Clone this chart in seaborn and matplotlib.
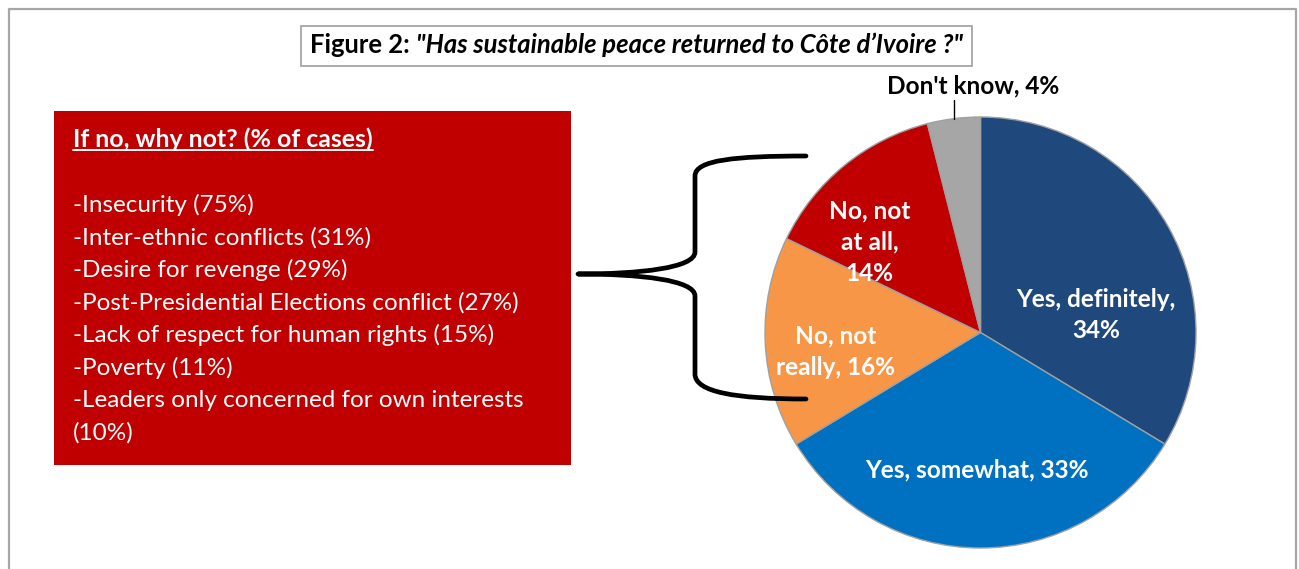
import matplotlib
matplotlib.use("Agg")
import matplotlib.pyplot as plt
import seaborn as sns
from matplotlib.patches import Rectangle, PathPatch
from matplotlib.path import Path
from matplotlib.lines import Line2D
import numpy as np

# ---- data -------------------------------------------------------------
answers = ["Yes, definitely", "Yes, somewhat", "No, not really", "No, not at all", "Don't know"]
shares = [34, 33, 16, 14, 4]
# how each slice label is broken over lines
label_lines = [
    ["Yes, definitely,", "{}%"],
    ["Yes, somewhat, {}%"],
    ["No, not", "really, {}%"],
    ["No, not", "at all,", "{}%"],
    ["Don't know, {}%"],
]
slice_colors = ["#1F497D", "#0070C0", "#F79646", "#C00000", "#A6A6A6"]

reasons = [
    "Insecurity",
    "Inter-ethnic conflicts",
    "Desire for revenge",
    "Post-Presidential Elections conflict",
    "Lack of respect for human rights",
    "Poverty",
    "Leaders only concerned for own interests",
]
reason_shares = [75, 31, 29, 27, 15, 11, 10]

title_lead = "Figure 2: "
title_question = "\"Has sustainable peace returned to C\u00f4te d\u2019Ivoire ?\""
box_header = "If no, why not? (% of cases)"

# ---- style ------------------------------------------------------------
sns.set_theme(style="white")
plt.rcParams["font.family"] = ["Lato", "DejaVu Sans"]

W, H = 1299, 569
fig = plt.figure(figsize=(W / 100, H / 100), dpi=100)
fig.patch.set_facecolor("white")


def fx(x):
    return x / W


def fy(y):
    return 1 - y / H


renderer = fig.canvas.get_renderer()


def width_px(t):
    return t.get_window_extent(renderer).width


# outer frame (open at the bottom)
fig.add_artist(Line2D([fx(8.5), fx(8.5), fx(1295.5), fx(1295.5)],
                      [fy(600), fy(8.5), fy(8.5), fy(600)],
                      transform=fig.transFigure, color="#A6A6A6", lw=1.6))

# ---- title box --------------------------------------------------------
fig.add_artist(Rectangle((fx(301), fy(66)), (972 - 301) / W, (66 - 26) / H,
                         transform=fig.transFigure, facecolor="white",
                         edgecolor="#A6A6A6", lw=1.3))
t1 = fig.text(fx(310), fy(53), title_lead, fontsize=14, fontweight="bold",
              va="baseline", ha="left", color="black")
t2 = fig.text(fx(310), fy(53), title_question, fontsize=14, fontweight="bold",
              style="italic", va="baseline", ha="left", color="black")
scale = 653 / (width_px(t1) + width_px(t2))
for t in (t1, t2):
    t.set_fontsize(14 * scale)
t2.set_x(fx(310 + width_px(t1)))

# ---- red explanation box ---------------------------------------------
fig.add_artist(Rectangle((fx(54), fy(465)), (571 - 54) / W, (465 - 111) / H,
                         transform=fig.transFigure, facecolor="#C00000",
                         edgecolor="none"))
hdr = fig.text(fx(73), fy(146.7), box_header, fontsize=14, fontweight="bold",
               color="white", va="baseline", ha="left")
hdr.set_fontsize(14 * 302 / width_px(hdr))
hb = hdr.get_window_extent(renderer)
fig.add_artist(Line2D([hb.x0 / W, hb.x1 / W], [fy(150.5), fy(150.5)],
                      transform=fig.transFigure, color="white", lw=1.4))

lines = []
for r, s in zip(reasons, reason_shares):
    lines.append(f"-{r} ({s}%)")
probe = fig.text(0, 0, lines[3], fontsize=14)
list_size = 14 * 448 / width_px(probe)
probe.remove()

# wrap lines that run past the box
wrapped = []
for ln in lines:
    tt = fig.text(0, 0, ln, fontsize=list_size)
    if width_px(tt) > 480:
        head, tail = ln.rsplit(" (", 1)
        wrapped += [head, "(" + tail]
    else:
        wrapped.append(ln)
    tt.remove()

for i, ln in enumerate(wrapped):
    fig.text(fx(73), fy(211.7 + i * 32.6), ln, fontsize=list_size,
             color="white", va="baseline", ha="left")

# ---- curly brace linking box and "No" slices ---------------------------
verts = [
    (806, 156),
    (735, 156), (695, 160), (695, 176),
    (695, 252),
    (695, 268), (640, 274), (578, 274),
    (640, 274), (695, 280), (695, 296),
    (695, 374),
    (695, 392), (735, 399), (806, 399),
]
codes = ([Path.MOVETO] + [Path.CURVE4] * 3 + [Path.LINETO] + [Path.CURVE4] * 6
         + [Path.LINETO] + [Path.CURVE4] * 3)
brace = Path([(fx(x), fy(y)) for x, y in verts], codes)
fig.add_artist(PathPatch(brace, transform=fig.transFigure, facecolor="none",
                         edgecolor="black", lw=3.4, capstyle="round",
                         joinstyle="round"))

# ---- pie --------------------------------------------------------------
cx, cy, R = 980.5, 332.5, 215.5
half = 1.2 * R
ax = fig.add_axes([fx(cx - half), fy(cy + half), 2 * half / W, 2 * half / H])
wedges, _ = ax.pie(shares, colors=slice_colors, startangle=90, counterclock=False,
                   radius=1.0, wedgeprops=dict(edgecolor="#A0A0A0", linewidth=1.0))
ax.set_xlim(-1.2, 1.2)
ax.set_ylim(-1.2, 1.2)
ax.set_aspect("equal")
ax.axis("off")

# label anchors: (x centre, first baseline) in radius units
anchors = [(0.536, 0.120), (-0.014, -0.674), (-0.671, -0.050),
           (-0.513, 0.531), (-0.035, 1.109)]
step = 31.7 / R

probe = ax.text(0, 0, label_lines[1][0].format(shares[1]), fontsize=16,
                fontweight="bold")
pie_size = 16 * 225 / width_px(probe)
probe.remove()

for k, (parts, v) in enumerate(zip(label_lines, shares)):
    x0, y0 = anchors[k]
    col = "black" if k == 4 else "white"
    for j, p in enumerate(parts):
        ax.text(x0, y0 - j * step, p.format(v), fontsize=pie_size,
                fontweight="bold", color=col, ha="center", va="baseline")

# leader line for the small slice
w = wedges[4]
mid = np.deg2rad((w.theta1 + w.theta2) / 2)
ax.plot([np.cos(mid) * 1.0, np.cos(mid) * 1.0],
        [np.sin(mid) * 1.0, 1.08], color="black", lw=1.0)

fig.savefig("out.png", dpi=100, facecolor="white")
